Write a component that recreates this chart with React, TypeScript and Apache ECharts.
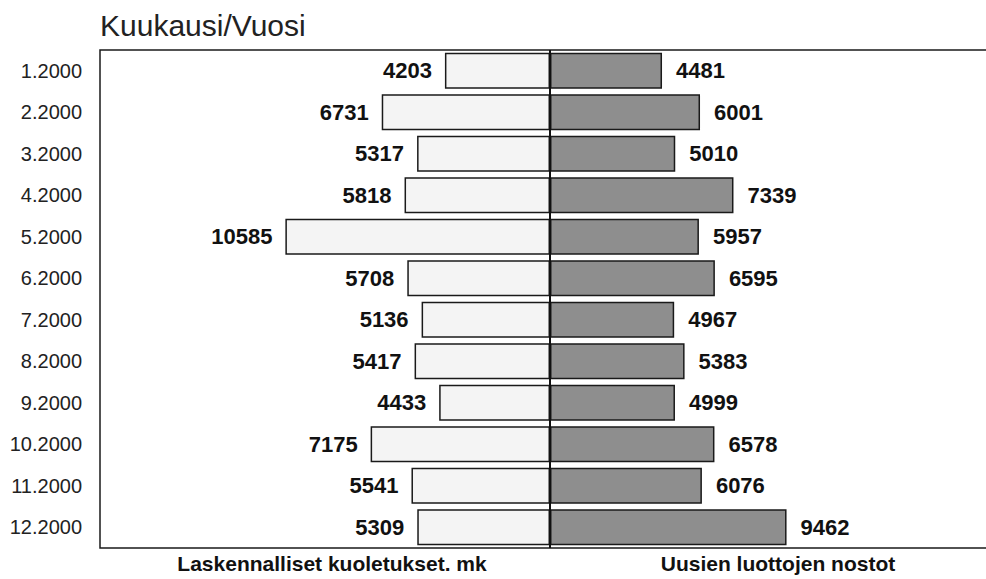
import React, { useEffect, useRef } from "react";
import * as echarts from "echarts";

const categories = ["1.2000","2.2000","3.2000","4.2000","5.2000","6.2000","7.2000","8.2000","9.2000","10.2000","11.2000","12.2000"];
const leftValues = [4203, 6731, 5317, 5818, 10585, 5708, 5136, 5417, 4433, 7175, 5541, 5309];
const rightValues = [4481, 6001, 5010, 7339, 5957, 6595, 4967, 5383, 4999, 6578, 6076, 9462];
const leftName = "Laskennalliset kuoletukset. mk";
const rightName = "Uusien luottojen nostot";
const titleText = "Kuukausi/Vuosi";

export default function App() {
  const ref = useRef<HTMLDivElement>(null);
  useEffect(() => {
    document.body.style.margin = "0";
    const chart = echarts.init(ref.current!, null, { renderer: "svg" });
    const font = "'Liberation Sans', Arial, sans-serif";
    chart.setOption({
      animation: false,
      backgroundColor: "#ffffff",
      textStyle: { fontFamily: font },
      grid: {
        left: 100, top: 50, width: 920, bottom: 31,
        outerBoundsMode: "none", containLabel: false,
        show: true, borderColor: "#1a1a1a", borderWidth: 1.5, backgroundColor: "transparent"
      },
      xAxis: {
        type: "value", min: -18000, max: 18800,
        axisLine: { show: false }, axisTick: { show: false },
        axisLabel: { show: false }, splitLine: { show: false }
      },
      yAxis: {
        type: "category", data: categories, inverse: true,
        axisLine: { show: false }, axisTick: { show: false },
        axisLabel: { color: "#222", fontSize: 20, margin: 18, fontFamily: font }
      },
      series: [
        {
          name: leftName, type: "bar", barCategoryGap: "13%", barGap: "-100%",
          data: leftValues.map(v => -v),
          itemStyle: { color: "#f4f4f4", borderColor: "#1a1a1a", borderWidth: 1.5 },
          label: {
            show: true, position: "left", distance: 13,
            formatter: (p: any) => String(Math.abs(p.value)),
            color: "#111", fontSize: 22, fontWeight: "bold", fontFamily: font
          },
          markLine: {
            silent: true, symbol: "none", label: { show: false },
            lineStyle: { color: "#111", width: 2, type: "solid" },
            data: [{ xAxis: 0 }]
          }
        },
        {
          name: rightName, type: "bar", barCategoryGap: "13%", barGap: "-100%",
          data: rightValues,
          itemStyle: { color: "#8e8e8e", borderColor: "#1a1a1a", borderWidth: 1.5 },
          label: {
            show: true, position: "right", distance: 14,
            color: "#111", fontSize: 22, fontWeight: "bold", fontFamily: font
          }
        }
      ],
      graphic: [
        { type: "text", x: 100, y: 25, style: { text: titleText, fontSize: 30, fill: "#222", verticalAlign: "middle", fontFamily: font } },
        { type: "text", x: 332, y: 563, style: { text: leftName, fontSize: 21, fontWeight: "bold", fill: "#111", align: "center", verticalAlign: "middle", fontFamily: font } },
        { type: "text", x: 778, y: 563, style: { text: rightName, fontSize: 21, fontWeight: "bold", fill: "#111", align: "center", verticalAlign: "middle", fontFamily: font } }
      ]
    });
    return () => chart.dispose();
  }, []);
  return <div ref={ref} style={{ width: 986, height: 579 }} />;
}
